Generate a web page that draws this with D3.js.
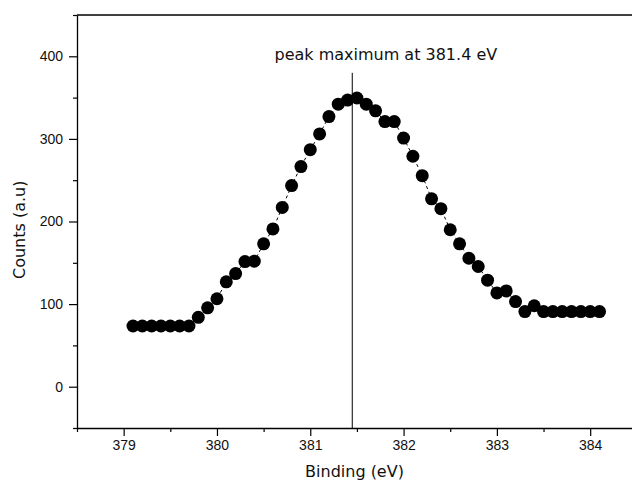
<!DOCTYPE html>
<html>
<head>
<meta charset="utf-8">
<script src="https://cdn.jsdelivr.net/npm/d3@7"></script>
<style>
  body { margin: 0; background: #fff; }
  svg { display: block; font-family: "DejaVu Sans", Verdana, sans-serif; }
</style>
</head>
<body>
<svg id="chart" width="632" height="488"></svg>
<script>
// binding energy (eV), 0.1 eV steps
const binding = [
  379.1, 379.2, 379.3, 379.4, 379.5, 379.6, 379.7, 379.8, 379.9, 380.0,
  380.1, 380.2, 380.3, 380.4, 380.5, 380.6, 380.7, 380.8, 380.9, 381.0,
  381.1, 381.2, 381.3, 381.4, 381.5, 381.6, 381.7, 381.8, 381.9, 382.0,
  382.1, 382.2, 382.3, 382.4, 382.5, 382.6, 382.7, 382.8, 382.9, 383.0,
  383.1, 383.2, 383.3, 383.4, 383.5, 383.6, 383.7, 383.8, 383.9, 384.0,
  384.1
]
const counts = [
  73.5, 73.5, 73.5, 73.5, 73.5, 73.5, 73.5, 84, 95.5, 106.5,
  127, 137, 151.5, 152, 173, 191, 217, 243.5, 266.5, 287,
  306, 327, 342, 347, 349.5, 342, 334, 321, 321, 301,
  279, 255.5, 227.5, 215.5, 190, 173, 155.5, 145.5, 129, 113.5,
  116, 103, 91, 98, 91, 91, 91, 91, 91, 91,
  91
]

const xMajor = [379, 380, 381, 382, 383, 384]
const xMinor = [378.5, 379.5, 380.5, 381.5, 382.5, 383.5, 384.5]
const yMajor = [0, 100, 200, 300, 400]
const yMinor = [-50, 50, 150, 250, 350, 450]

const peakX = 381.45
const peakTop = 380
const peakLabel = 'peak maximum at 381.4 eV'

const svg = d3.select('#chart')

const x = d3.scaleLinear().domain([378.5, 385]).range([77, 683.5])
const y = d3.scaleLinear().domain([-50, 450]).range([428, 15])

// frame: top line, y axis, x axis
svg.append('line')
  .attr('x1', x(378.5)).attr('x2', x(385))
  .attr('y1', y(450)).attr('y2', y(450))
  .attr('stroke', '#000').attr('stroke-width', 1.3)

const yAxis = svg.append('g').attr('transform', 'translate(' + x(378.5) + ',0)')
yAxis.call(d3.axisLeft(y).tickValues(yMajor).tickSize(8).tickSizeOuter(0).tickPadding(6))
yAxis.append('g').call(d3.axisLeft(y).tickValues(yMinor).tickSize(4).tickFormat(''))
  .select('.domain').remove()

const xAxis = svg.append('g').attr('transform', 'translate(0,' + y(-50) + ')')
xAxis.call(d3.axisBottom(x).tickValues(xMajor).tickFormat(d3.format('d'))
  .tickSize(8).tickSizeOuter(0).tickPadding(4))
xAxis.append('g').call(d3.axisBottom(x).tickValues(xMinor).tickSize(4).tickFormat(''))
  .select('.domain').remove()

svg.selectAll('.domain').attr('stroke-width', 1.3)
svg.selectAll('.tick line').attr('stroke-width', 1.2)
svg.selectAll('.tick text').attr('font-size', 14).attr('fill', '#111')

// axis titles
svg.append('text')
  .attr('x', (x(378.5) + 632) / 2).attr('y', 477)
  .attr('text-anchor', 'middle').attr('font-size', 16).attr('fill', '#111')
  .text('Binding (eV)')

svg.append('text')
  .attr('transform', 'translate(25,' + y(190) + ') rotate(-90)')
  .attr('text-anchor', 'middle').attr('font-size', 16).attr('fill', '#111')
  .text('Counts (a.u)')

// peak marker
svg.append('line')
  .attr('x1', x(peakX)).attr('x2', x(peakX))
  .attr('y1', y(peakTop)).attr('y2', y(-50))
  .attr('stroke', '#000').attr('stroke-width', 1)

svg.append('text')
  .attr('x', x(381.81)).attr('y', y(395))
  .attr('text-anchor', 'middle').attr('font-size', 16).attr('fill', '#111')
  .text(peakLabel)

// data
const pts = binding.map((b, i) => [b, counts[i]])

svg.append('path')
  .datum(pts)
  .attr('fill', 'none')
  .attr('stroke', '#000')
  .attr('stroke-width', 1)
  .attr('stroke-dasharray', '3,3')
  .attr('d', d3.line().x(d => x(d[0])).y(d => y(d[1])))

svg.selectAll('circle.pt')
  .data(pts)
  .join('circle')
  .attr('class', 'pt')
  .attr('cx', d => x(d[0]))
  .attr('cy', d => y(d[1]))
  .attr('r', 6.5)
  .attr('fill', '#000')
</script>
</body>
</html>
